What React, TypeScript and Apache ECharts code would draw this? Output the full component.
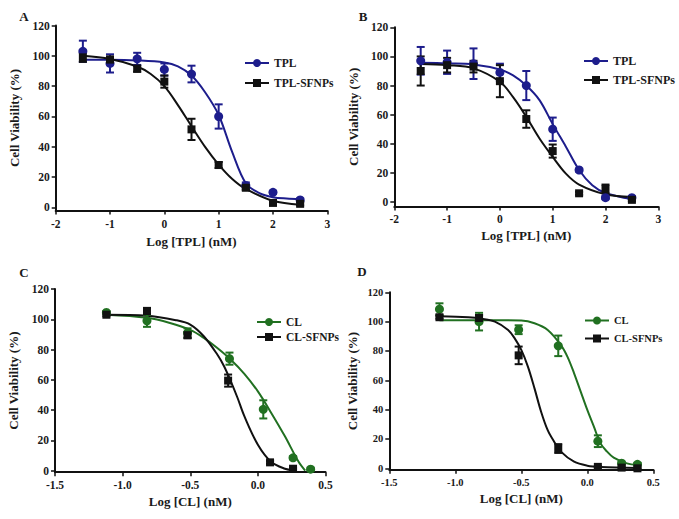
import React, { useEffect, useRef } from "react";
import * as echarts from "echarts";

// ---------- data ----------
const tplDoseX = [-1.5, -1, -0.5, 0, 0.5, 1, 1.5, 2, 2.5];

// Panel A
const aTplY = [103, 95, 98, 91, 88, 60, 14.5, 10, 5];
const aTplErr = [7, 6, 4, 4, 5.5, 8, 2, 1, 1];
const aSfnY = [99, 97.5, 91.5, 83, 51.5, 28, 13, 3, 2.4];
const aSfnErr = [3, 2, 2, 4, 7, 2, 1.5, 1, 1];
const aTplCurveX = [-1.5, -1, -0.5, 0, 0.25, 0.5, 0.75, 1, 1.25, 1.5, 1.75, 2, 2.25, 2.5];
const aTplCurveY = [97.4, 97.4, 97, 95.6, 93, 87, 76, 61, 36.5, 16, 9.5, 6.8, 5.9, 5.5];
const aSfnCurveX = [-1.5, -1, -0.5, -0.25, 0, 0.25, 0.5, 0.75, 1, 1.25, 1.5, 2, 2.5];
const aSfnCurveY = [100, 97.9, 93, 88, 80, 67.5, 53.6, 40, 28.3, 18.8, 12.2, 4.4, 1.8];

// Panel B
const bTplY = [97, 96, 95, 89, 80, 50, 22, 3, 3];
const bTplErr = [9.5, 8, 10.5, 6, 10, 8, 1, 1, 1];
const bSfnY = [90, 94, 93, 83, 57, 35, 6, 9, 1.5];
const bSfnErr = [10, 5, 4, 11, 6, 4.5, 1, 3, 1];
const bTplCurveX = [-1.5, -1, -0.5, 0, 0.25, 0.5, 0.75, 1, 1.25, 1.5, 1.75, 2, 2.5];
const bTplCurveY = [95.7, 95.2, 94.5, 91, 87, 80, 70, 53.5, 38, 22, 11.5, 6.2, 2];
const bSfnCurveX = [-1.5, -1, -0.5, 0, 0.25, 0.5, 0.75, 1, 1.25, 1.5, 2, 2.5];
const bSfnCurveY = [94.8, 94, 91.8, 82.6, 72, 58.5, 43.6, 31, 19.5, 12, 5.3, 3.4];

// Panel C
const cClX = [-1.12, -0.82, -0.52, -0.21, 0.04, 0.26, 0.39];
const cClY = [104.5, 99, 91, 74, 40.5, 8.5, 1];
const cClErr = [1, 4, 3, 4, 6, 1, 1];
const cSfnX = [-1.12, -0.82, -0.52, -0.22, 0.09, 0.26];
const cSfnY = [103, 105.5, 89.5, 59.5, 5.5, 1.3];
const cSfnErr = [1, 2, 2, 4, 1, 0.5];
const cClCurveX = [-1.12, -0.82, -0.65, -0.5, -0.4, -0.3, -0.2, -0.1, 0, 0.1, 0.2, 0.3, 0.35];
const cClCurveY = [103, 101, 97.6, 93, 87.7, 81, 73.3, 64, 52.4, 38, 22.7, 6, 0];
const cSfnCurveX = [-1.12, -0.82, -0.6, -0.5, -0.4, -0.3, -0.25, -0.2, -0.15, -0.1, 0, 0.1, 0.2, 0.26];
const cSfnCurveY = [103, 102.4, 99.3, 96.5, 88.8, 76.7, 69, 59, 48, 36, 17.2, 5.7, 1.3, 0.4];

// Panel D
const dDoseX = [-1.12, -0.82, -0.52, -0.22, 0.08, 0.26, 0.38];
const dClY = [108.5, 100, 94.5, 83.5, 18.5, 3.5, 2.7];
const dClErr = [4, 6, 3, 7, 4, 1, 1];
const dSfnY = [103, 102.5, 77, 13.5, 1, 0.5, 0];
const dSfnErr = [1, 2, 6, 3, 0.5, 0.5, 0.5];
const dClCurveX = [-1.12, -0.82, -0.5, -0.4, -0.3, -0.2, -0.15, -0.1, -0.05, 0, 0.05, 0.1, 0.15, 0.2, 0.3, 0.38];
const dClCurveY = [101, 101, 100.7, 98.9, 94.3, 84, 76, 64.8, 52.3, 39.8, 28.4, 17, 11.4, 7.3, 3.4, 2.3];
const dSfnCurveX = [-1.12, -0.9, -0.8, -0.7, -0.6, -0.55, -0.5, -0.45, -0.4, -0.35, -0.3, -0.25, -0.2, -0.1, 0, 0.1, 0.38];
const dSfnCurveY = [103.6, 103, 102, 100, 94.3, 88.6, 80.7, 69.3, 54.5, 38.6, 26, 18, 11.4, 4.5, 1.8, 0.9, 0.2];

const yTicks = [0, 20, 40, 60, 80, 100, 120];
const panelLetters = ["A", "B", "C", "D"];

// ---------- style ----------
const FONT = '"Liberation Serif", "Times New Roman", serif';
const BLUE = "#1d1d8c";
const GREEN = "#217021";
const BLACK = "#111111";
const TXT = "#1a1a1a";

const zip = (xs: number[], ys: number[]) => xs.map((x, i) => [x, ys[i]]);
const zip3 = (xs: number[], ys: number[], es: number[]) => xs.map((x, i) => [x, ys[i], es[i]]);

function errSeries(idx: number, color: string, data: number[][]) {
  return {
    type: "custom",
    xAxisIndex: idx,
    yAxisIndex: idx,
    silent: true,
    z: 3,
    data,
    renderItem: (params: any, api: any) => {
      const x = api.value(0);
      const y = api.value(1);
      const e = api.value(2);
      const top = api.coord([x, y + e]);
      const bot = api.coord([x, y - e]);
      const w = 4;
      const st = { stroke: color, lineWidth: 2 };
      return {
        type: "group",
        children: [
          { type: "line", shape: { x1: top[0], y1: top[1], x2: bot[0], y2: bot[1] }, style: st },
          { type: "line", shape: { x1: top[0] - w, y1: top[1], x2: top[0] + w, y2: top[1] }, style: st },
          { type: "line", shape: { x1: bot[0] - w, y1: bot[1], x2: bot[0] + w, y2: bot[1] }, style: st },
        ],
      };
    },
  };
}

function curveSeries(idx: number, name: string, color: string, symbol: string, data: number[][]) {
  return {
    type: "line",
    name,
    xAxisIndex: idx,
    yAxisIndex: idx,
    data,
    smooth: 0.35,
    symbol,
    showSymbol: false,
    symbolSize: 8,
    lineStyle: { color, width: 2 },
    itemStyle: { color },
    z: 2,
  };
}

function pointSeries(idx: number, name: string, color: string, symbol: string, size: number, data: number[][]) {
  return {
    type: "scatter",
    name,
    xAxisIndex: idx,
    yAxisIndex: idx,
    data,
    symbol,
    symbolSize: size,
    itemStyle: { color, opacity: 1 },
    z: 4,
  };
}

function yAxisDef(idx: number, min: number, labelSize: number, gap: number) {
  return {
    type: "value",
    gridIndex: idx,
    min,
    max: 120,
    name: "Cell Viability (%)",
    nameLocation: "middle",
    nameGap: gap,
    nameTextStyle: { fontFamily: FONT, fontWeight: "bold", fontSize: 13, color: TXT },
    axisLine: { show: true, onZero: false, lineStyle: { color: BLACK, width: 2 } },
    axisTick: { show: true, length: 4, customValues: yTicks, lineStyle: { color: BLACK, width: 1.5 } },
    axisLabel: { customValues: yTicks, margin: 6, fontFamily: FONT, fontWeight: "bold", fontSize: labelSize, color: TXT },
    splitLine: { show: false },
  };
}

function xAxisDef(idx: number, min: number, max: number, interval: number, name: string, labelSize: number, gap: number, fixed: boolean) {
  return {
    type: "value",
    gridIndex: idx,
    min,
    max,
    interval,
    name,
    nameLocation: "middle",
    nameGap: gap,
    nameTextStyle: { fontFamily: FONT, fontWeight: "bold", fontSize: 13, color: TXT },
    axisLine: { show: true, onZero: false, lineStyle: { color: BLACK, width: 2 } },
    axisTick: { show: true, length: 4, lineStyle: { color: BLACK, width: 1.5 } },
    axisLabel: {
      margin: 7,
      fontFamily: FONT,
      fontWeight: "bold",
      fontSize: labelSize,
      color: TXT,
      formatter: (v: number) => (fixed ? v.toFixed(1) : String(v)),
    },
    splitLine: { show: false },
  };
}

function legendDef(left: number, top: number, gap: number, names: string[], size: number) {
  return {
    left,
    top,
    orient: "vertical",
    itemWidth: 24,
    itemHeight: 10,
    itemGap: gap,
    selectedMode: false,
    data: names,
    textStyle: { fontFamily: FONT, fontWeight: "bold", fontSize: size, color: TXT },
  };
}

export default function App() {
  const ref = useRef<HTMLDivElement>(null);

  useEffect(() => {
    if (!ref.current) return;
    const chart = echarts.init(ref.current, undefined, { renderer: "svg" });

    const letterPos = [
      [24, 16],
      [363, 16],
      [24, 272],
      [362, 271],
    ];

    const option: any = {
      animation: false,
      backgroundColor: "#ffffff",
      grid: [
        { left: 55.7, top: 25.5, width: 271.6, height: 185 },
        { left: 394.3, top: 27.3, width: 264, height: 179.1 },
        { left: 55, top: 289, width: 270.5, height: 183.2 },
        { left: 389.3, top: 292.3, width: 264, height: 177.5 },
      ],
      xAxis: [
        xAxisDef(0, -2, 3, 1, "Log [TPL] (nM)", 11.5, 24, false),
        xAxisDef(1, -2, 3, 1, "Log [TPL] (nM)", 11.5, 23, false),
        xAxisDef(2, -1.5, 0.5, 0.5, "Log [CL] (nM)", 11.5, 23, true),
        xAxisDef(3, -1.5, 0.5, 0.5, "Log [CL] (nM)", 10.5, 22, true),
      ],
      yAxis: [
        yAxisDef(0, -2, 11.5, 35),
        yAxisDef(1, -3, 11.5, 34),
        yAxisDef(2, -1, 11.5, 35),
        yAxisDef(3, -1, 10.5, 30),
      ],
      legend: [
        legendDef(239, 52, 8, ["TPL", "TPL-SFNPs"], 11.5),
        legendDef(578, 50, 7, ["TPL", "TPL-SFNPs"], 12),
        legendDef(251, 311, 3, ["CL", "CL-SFNPs"], 11.5),
        legendDef(579, 310, 7, ["CL", "CL-SFNPs"], 10.5),
      ],
      graphic: panelLetters.map((t, i) => ({
        type: "text",
        x: letterPos[i][0],
        y: letterPos[i][1],
        style: {
          text: t,
          font: `bold 13px ${FONT}`,
          fill: TXT,
          textAlign: "center",
          textVerticalAlign: "middle",
        },
      })),
      series: [
        // A
        curveSeries(0, "TPL", BLUE, "circle", zip(aTplCurveX, aTplCurveY)),
        curveSeries(0, "TPL-SFNPs", BLACK, "rect", zip(aSfnCurveX, aSfnCurveY)),
        errSeries(0, BLUE, zip3(tplDoseX, aTplY, aTplErr)),
        errSeries(0, BLACK, zip3(tplDoseX, aSfnY, aSfnErr)),
        pointSeries(0, "A TPL points", BLUE, "circle", 9, zip(tplDoseX, aTplY)),
        pointSeries(0, "A SFNPs points", BLACK, "rect", 8, zip(tplDoseX, aSfnY)),
        // B
        curveSeries(1, "TPL", BLUE, "circle", zip(bTplCurveX, bTplCurveY)),
        curveSeries(1, "TPL-SFNPs", BLACK, "rect", zip(bSfnCurveX, bSfnCurveY)),
        errSeries(1, BLUE, zip3(tplDoseX, bTplY, bTplErr)),
        errSeries(1, BLACK, zip3(tplDoseX, bSfnY, bSfnErr)),
        pointSeries(1, "B TPL points", BLUE, "circle", 9, zip(tplDoseX, bTplY)),
        pointSeries(1, "B SFNPs points", BLACK, "rect", 8, zip(tplDoseX, bSfnY)),
        // C
        curveSeries(2, "CL", GREEN, "circle", zip(cClCurveX, cClCurveY)),
        curveSeries(2, "CL-SFNPs", BLACK, "rect", zip(cSfnCurveX, cSfnCurveY)),
        errSeries(2, GREEN, zip3(cClX, cClY, cClErr)),
        errSeries(2, BLACK, zip3(cSfnX, cSfnY, cSfnErr)),
        pointSeries(2, "C CL points", GREEN, "circle", 9, zip(cClX, cClY)),
        pointSeries(2, "C SFNPs points", BLACK, "rect", 8, zip(cSfnX, cSfnY)),
        // D
        curveSeries(3, "CL", GREEN, "circle", zip(dClCurveX, dClCurveY)),
        curveSeries(3, "CL-SFNPs", BLACK, "rect", zip(dSfnCurveX, dSfnCurveY)),
        errSeries(3, GREEN, zip3(dDoseX, dClY, dClErr)),
        errSeries(3, BLACK, zip3(dDoseX, dSfnY, dSfnErr)),
        pointSeries(3, "D CL points", GREEN, "circle", 9, zip(dDoseX, dClY)),
        pointSeries(3, "D SFNPs points", BLACK, "rect", 8, zip(dDoseX, dSfnY)),
      ],
    };

    chart.setOption(option);
    return () => chart.dispose();
  }, []);

  return (
    <div
      ref={ref}
      style={{ position: "fixed", left: 0, top: 0, width: 679, height: 519, background: "#fff" }}
    />
  );
}
